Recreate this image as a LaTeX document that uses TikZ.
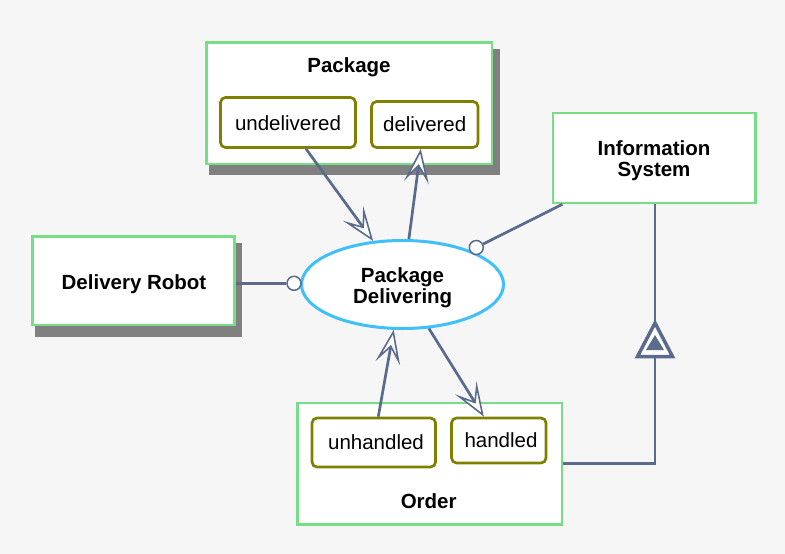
\documentclass[tikz,border=0pt]{standalone}
\usepackage{fontspec}
\setmainfont{Liberation Sans}
\usetikzlibrary{arrows.meta,shapes.geometric,calc}
\definecolor{bgc}{RGB}{246,246,246}
\definecolor{objgreen}{RGB}{118,222,134}
\definecolor{stateolive}{RGB}{128,128,0}
\definecolor{procblue}{RGB}{64,192,250}
\definecolor{linkc}{RGB}{90,107,140}
\definecolor{shadowc}{RGB}{128,128,128}
\begin{document}
\begin{tikzpicture}[x=1pt,y=-1pt,
 objbox/.style={draw=objgreen,line width=2.5pt,fill=white,inner sep=0pt},
 statebox/.style={draw=stateolive,line width=2.7pt,fill=white,rounded corners=5pt,inner sep=0pt},
 procell/.style={ellipse,draw=procblue,line width=3pt,fill=white,inner sep=0pt},
 lbl/.style={font=\fontsize{20.5}{21}\selectfont,inner sep=0pt,anchor=base},
 blbl/.style={font=\fontsize{20.5}{21}\selectfont\bfseries,inner sep=0pt,anchor=base},
 link/.style={draw=linkc,line width=2.7pt},
 res/.style={link,-{Stealth[length=34pt,width=25pt,inset=16pt,fill=white,line width=1.6pt]}},
 endcirc/.style={circle,draw=linkc,fill=white,line width=1.5pt,minimum size=14pt,inner sep=0pt},
 shadowbox/.style={fill=shadowc}]
\useasboundingbox (0,0) rectangle (785,554);
\fill[bgc] (0,0) rectangle (785,554);
% shadows
\fill[shadowbox] (209,49) rectangle (500,175);
\fill[shadowbox] (35,243) rectangle (242,336.5);
% objects
\node[objbox,minimum width=285.5pt,minimum height=121.5pt] (pkg) at (349.3,103.3) {};
\node[objbox,minimum width=202.5pt,minimum height=90pt] (info) at (654.3,158) {};
\node[objbox,minimum width=202pt,minimum height=88.5pt] (robot) at (133.5,280.8) {};
\node[objbox,minimum width=264.5pt,minimum height=121.5pt] (order) at (429.8,463.8) {};
% states
\node[statebox,minimum width=135pt,minimum height=50pt] (undel) at (288,122.5) {};
\node[statebox,minimum width=106.5pt,minimum height=46pt] (del) at (424.8,124.5) {};
\node[statebox,minimum width=123.5pt,minimum height=49pt] (unh) at (373.8,442.5) {};
\node[statebox,minimum width=94.5pt,minimum height=45pt] (han) at (498.8,440.5) {};
% process
\node[procell,minimum width=202pt,minimum height=88pt] (ell) at (402.5,284.5) {};
% labels
\node[blbl] (tpkg) at (349,72.5) {Package};
\node[lbl] (tundel) at (288,130) {undelivered};
\node[lbl] (tdel) at (424.7,131.5) {delivered};
\node[blbl] (tinfo1) at (654,155) {Information};
\node[blbl] (tinfo2) at (654,176) {System};
\node[blbl] (trobot) at (134,289) {Delivery Robot};
\node[blbl] (tell1) at (402.5,282) {Package};
\node[blbl] (tell2) at (402.7,303) {Delivering};
\node[lbl] (tunh) at (376,449) {unhandled};
\node[lbl] (than) at (501,447) {handled};
\node[blbl] (torder) at (428.7,508) {Order};
% links
\draw[res] ($(undel.south)+(18,0)$) -- (ell.124.5);
\draw[res] (ell.82.8) -- ($(del.south)+(-4,0)$);
\draw[res] ($(unh.north)+(4.5,0)$) -- (ell.259.8);
\draw[res] (ell.301.5) -- ($(han.north)+(-15,0)$);
\node[endcirc] (cR) at (294,283.3) {};
\node[endcirc] (cI) at (476.3,247.5) {};
\draw[link] (cR -| robot.east) -- (cR);
\draw[link] (info) -- (cI);
% exhibition-characterization
\coordinate (triTop) at (655,323);
\coordinate (triBot) at (655,356.5);
\draw[link] (triTop |- info.south) -- (triTop);
\draw[link] (triBot) |- (order.east);
\draw[draw=linkc,line width=3.5pt,fill=white] (triTop) -- (672.5,356.5) -- (637.5,356.5) -- cycle;
\fill[linkc] (655,335) -- (664,350) -- (646,350) -- cycle;
\end{tikzpicture}
\end{document}
